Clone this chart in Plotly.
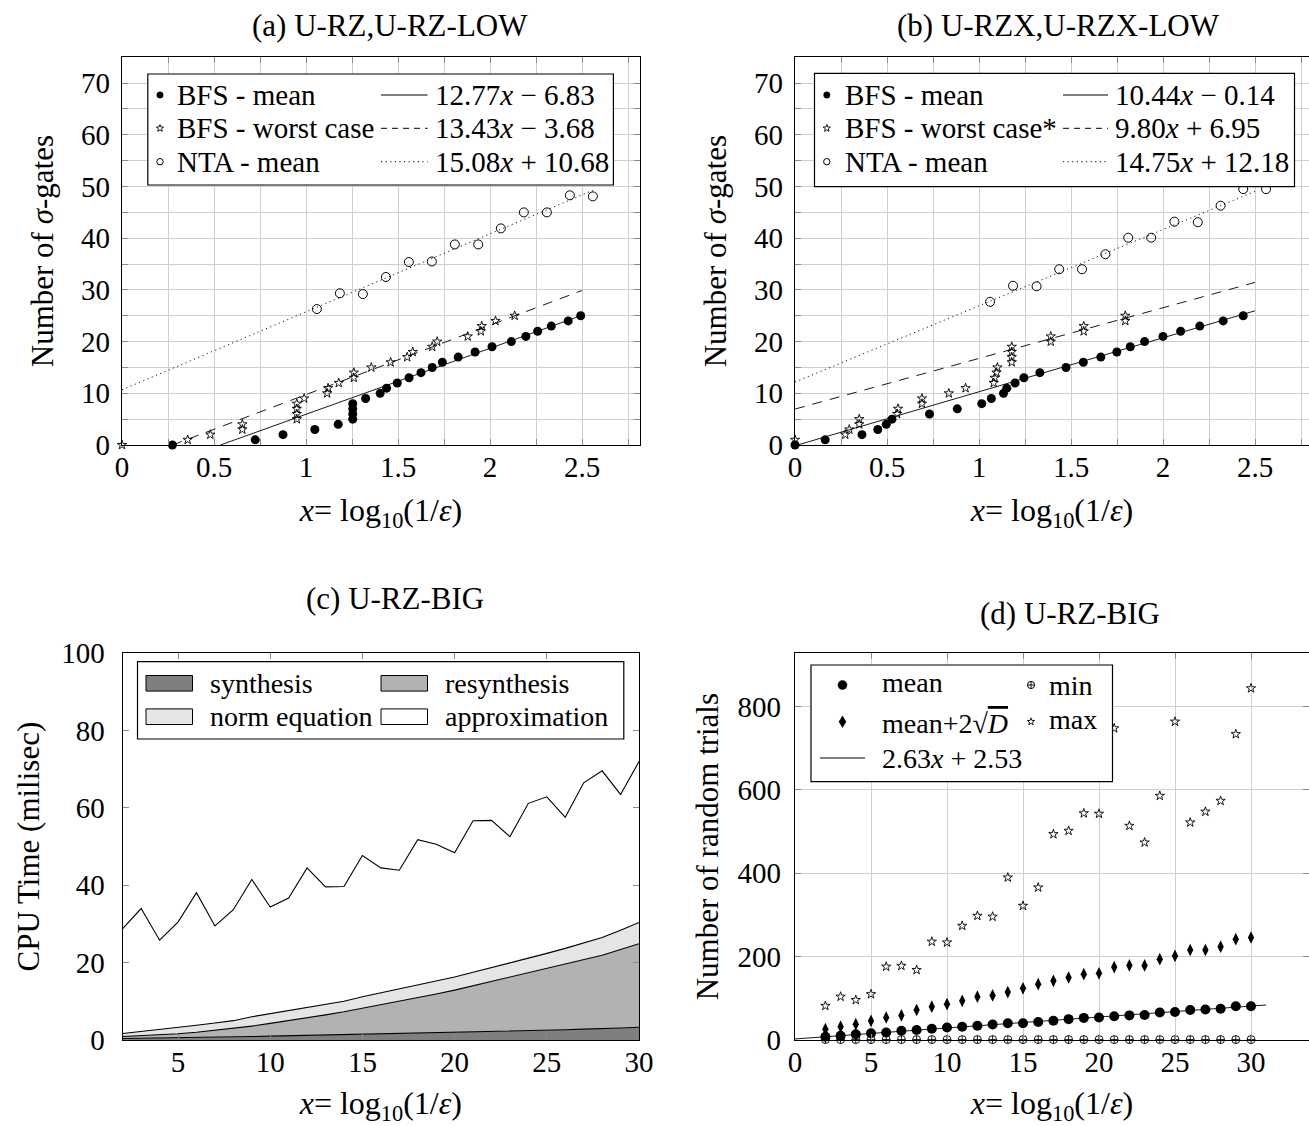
import numpy as np
import plotly.graph_objects as go

W, H = 1309, 1126
FONT = "Liberation Serif"

# ---------------- data: panel (a) U-RZ,U-RZ-LOW ----------------
a_mean_x = [0.274, 0.724, 0.875, 1.048, 1.175, 1.254, 1.254, 1.254, 1.254, 1.324, 1.403, 1.438, 1.496,
            1.56, 1.625, 1.686, 1.741, 1.827, 1.919, 2.011, 2.116, 2.195, 2.259, 2.333, 2.425, 2.493]
a_mean_y = [0, 1, 2, 3, 4, 5, 6, 7, 8, 9, 10, 11, 12, 13, 14, 15, 16, 17, 18, 19, 20, 21, 22, 23, 24, 25]
a_worst_x = [0.0, 0.357, 0.48, 0.654, 0.654, 0.95, 0.95, 0.95, 0.95, 0.99, 1.115, 1.12, 1.178,
             1.26, 1.26, 1.355, 1.46, 1.55, 1.58, 1.686, 1.713, 1.879, 1.95, 1.955, 2.03, 2.134]
a_worst_y = [0, 1, 2, 3, 4, 5, 6, 7, 8, 9, 10, 11, 12, 13, 14, 15, 16, 17, 18, 19, 20, 21, 22, 23, 24, 25]
a_nta_x = [1.059, 1.184, 1.309, 1.434, 1.559, 1.684, 1.809, 1.936, 2.059, 2.184, 2.309, 2.434, 2.559]
a_nta_y = [26.3, 29.35, 29.2, 32.5, 35.4, 35.5, 38.8, 38.8, 41.9, 45.0, 45.0, 48.3, 48.1]
a_fit_slope = [12.77, 13.43, 15.08]
a_fit_icpt = [-6.83, -3.68, 10.68]
a_fit_from = [0.535, 0.274, 0.0]
a_fit_to = [2.5, 2.5, 2.56]

# ---------------- data: panel (b) U-RZX,U-RZX-LOW ----------------
b_mean_x = [0.0, 0.164, 0.364, 0.45, 0.496, 0.527, 0.731, 0.882, 1.015, 1.067, 1.133, 1.151, 1.196,
            1.244, 1.331, 1.473, 1.567, 1.662, 1.749, 1.822, 1.9, 2.0, 2.096, 2.2, 2.327, 2.436]
b_mean_y = [0, 1, 2, 3, 4, 5, 6, 7, 8, 9, 10, 11, 12, 13, 14, 15, 16, 17, 18, 19, 20, 21, 22, 23, 24, 25]
b_worst_x = [0.0, 0.273, 0.295, 0.349, 0.349, 0.555, 0.56, 0.69, 0.69, 0.836, 0.927, 1.08, 1.085,
             1.095, 1.1, 1.178, 1.178, 1.178, 1.178, 1.39, 1.39, 1.569, 1.569, 1.795, 1.795]
b_worst_y = [1, 2, 3, 4, 5, 6, 7, 8, 9, 10, 11, 12, 13, 14, 15, 16, 17, 18, 19, 20, 21, 22, 23, 24, 25]
b_nta_x = [1.06, 1.185, 1.313, 1.436, 1.56, 1.687, 1.811, 1.936, 2.062, 2.189, 2.313, 2.436, 2.56]
b_nta_y = [27.7, 30.8, 30.7, 34.0, 34.0, 36.9, 40.1, 40.1, 43.2, 43.1, 46.3, 49.5, 49.5]
b_fit_slope = [10.44, 9.80, 14.75]
b_fit_icpt = [-0.14, 6.95, 12.18]
b_fit_from = [0.0, 0.0, 0.0]
b_fit_to = [2.5, 2.5, 2.5]

# ---------------- data: panel (c) U-RZ-BIG, CPU time ----------------
c_x = [2, 3, 4, 5, 6, 7, 8, 9, 10, 11, 12, 13, 14, 15, 16, 17, 18, 19, 20, 21, 22, 23, 24, 25, 26, 27, 28, 29, 30]
c_synthesis = [0.4, 0.45, 0.5, 0.55, 0.6, 0.7, 0.8, 0.9, 1.0, 1.1, 1.2, 1.3, 1.4, 1.5, 1.6, 1.7, 1.8, 1.85,
               1.9, 2.0, 2.1, 2.25, 2.4, 2.5, 2.65, 2.8, 2.9, 3.1, 3.3]
c_resynthesis = [0.5, 0.65, 0.8, 1.05, 1.4, 1.8, 2.2, 2.7, 3.3, 3.9, 4.5, 5.2, 5.9, 6.7, 7.5, 8.3, 9.1, 10.05,
                 11.0, 12.0, 13.0, 13.95, 15.0, 16.0, 16.95, 17.9, 19.0, 20.3, 21.6]
c_norm = [0.8, 1.1, 1.4, 1.6, 1.8, 1.9, 2.0, 2.4, 2.5, 2.6, 2.7, 2.8, 2.7, 3.0, 3.1, 3.2, 3.4, 3.3,
          3.4, 3.5, 3.6, 3.6, 3.7, 3.9, 4.1, 4.3, 4.6, 5.0, 5.5]
c_approx = [27.1, 31.8, 23.1, 27.3, 34.3, 25.1, 28.7, 35.5, 27.6, 29.1, 36.1, 30.3, 29.7, 36.5, 32.3, 30.7,
            37.5, 35.4, 32.1, 39.2, 38.1, 32.8, 40.1, 40.5, 33.9, 41.5, 43.1, 35.1, 41.6]

# ---------------- data: panel (d) U-RZ-BIG, random trials ----------------
d_x = [2, 3, 4, 5, 6, 7, 8, 9, 10, 11, 12, 13, 14, 15, 16, 17, 18, 19, 20, 21, 22, 23, 24, 25, 26, 27, 28, 29, 30]
d_mean = [8, 10, 14, 16, 18, 22, 24, 27, 30, 32, 34, 37, 40, 40, 43, 46, 50, 53, 54, 57, 59, 60, 66, 67, 72,
          73, 75, 81, 81]
d_mean2sd = [26, 32, 38, 46, 54, 59, 72, 80, 86, 94, 104, 107, 115, 124, 134, 142, 150, 158, 160, 175, 179,
             179, 194, 202, 216, 216, 224, 242, 246]
d_min = [1, 1, 1, 1, 1, 1, 1, 1, 1, 1, 1, 1, 1, 1, 1, 1, 1, 1, 1, 1, 1, 1, 1, 1, 1, 1, 1, 1, 1]
d_max = [82, 104, 96, 110, 176, 178, 168, 236, 234, 274, 298, 296, 390, 322, 366, 494, 502, 544, 543, 748,
         514, 474, 586, 764, 522, 548, 574, 734, 844]
d_fit_slope = 2.63
d_fit_icpt = 2.53
d_fit_range = [0.0, 31.0]

# ---------------- helpers ----------------
def px(x):
    return x / W


def py(y):
    return 1 - y / H


fig = go.Figure()


def markers(x, y, xa, ya, symbol, size, lw=1.0):
    fig.add_trace(go.Scatter(x=x, y=y, xaxis=xa, yaxis=ya, mode="markers", cliponaxis=False,
                             showlegend=False, hoverinfo="skip",
                             marker=dict(symbol=symbol, size=size, color="black",
                                         line=dict(color="black", width=lw))))


def fitline(m, b, x0, x1, xa, ya, dash, width=0.9):
    xs = np.array([x0, x1])
    fig.add_trace(go.Scatter(x=xs, y=m * xs + b, xaxis=xa, yaxis=ya, mode="lines", cliponaxis=False,
                             showlegend=False, hoverinfo="skip",
                             line=dict(color="black", width=width, dash=dash)))


DASH = "10px,8px"
DOT = "1.2px,3.4px"
dashes = ["solid", DASH, DOT]

# (a)
for i in range(3):
    fitline(a_fit_slope[i], a_fit_icpt[i], a_fit_from[i], a_fit_to[i], "x", "y", dashes[i])
markers(a_nta_x, a_nta_y, "x", "y", "circle-open", 9, 1)
markers(a_worst_x, a_worst_y, "x", "y", "star-open", 7, 0.9)
markers(a_mean_x, a_mean_y, "x", "y", "circle", 9, 0)

# (b)
for i in range(3):
    fitline(b_fit_slope[i], b_fit_icpt[i], b_fit_from[i], b_fit_to[i], "x2", "y2", dashes[i])
markers(b_nta_x, b_nta_y, "x2", "y2", "circle-open", 9, 1)
markers(b_worst_x, b_worst_y, "x2", "y2", "star-open", 7, 0.9)
markers(b_mean_x, b_mean_y, "x2", "y2", "circle", 9, 0)

# (c) stacked areas
c_layers = [(c_synthesis, "#7f7f7f"), (c_resynthesis, "#b2b2b2"), (c_norm, "#e5e5e5"), (c_approx, "#ffffff")]
for vals, col in c_layers:
    fig.add_trace(go.Scatter(x=c_x, y=vals, xaxis="x3", yaxis="y3", mode="lines", stackgroup="c",
                             fillcolor=col, line=dict(color="black", width=1.1), showlegend=False,
                             hoverinfo="skip"))

# (d)
fitline(d_fit_slope, d_fit_icpt, d_fit_range[0], d_fit_range[1], "x4", "y4", "solid")
markers(d_x, d_min, "x4", "y4", "circle-cross-open", 8, 0.9)
markers(d_x, d_max, "x4", "y4", "star-open", 7, 0.9)
markers(d_x, d_mean2sd, "x4", "y4", "diamond-tall", 9, 0)
markers(d_x, d_mean, "x4", "y4", "circle", 10, 0)

# ---------------- axes ----------------
GRID = "#cfcfcf"
TICKC = "#8a8a8a"
tickfont = dict(family=FONT, size=29, color="black")
XLAB = "<i>x</i>= log<sub>10</sub>(1/<i>ε</i>)"


def axis(domain, rng, dtick, title, tsize, tstand, minor=None, grid=True, mirror=True, standoff=6,
         tickvals=None, anchor=None):
    d = dict(domain=domain, range=rng, showline=True, linecolor="black", linewidth=1.3, mirror=mirror,
             showgrid=grid, gridcolor=GRID, gridwidth=1, zeroline=False, ticks="inside", ticklen=6,
             tickcolor=TICKC, tickfont=tickfont, ticklabelstandoff=standoff, anchor=anchor,
             fixedrange=True, automargin=False,
             title=dict(text=title, font=dict(family=FONT, size=tsize, color="black"), standoff=tstand))
    if tickvals is not None:
        d["tickmode"] = "array"
        d["tickvals"] = tickvals
    else:
        d["tick0"] = 0
        d["dtick"] = dtick
    if minor is not None:
        d["minor"] = dict(dtick=minor, showgrid=grid, gridcolor=GRID, gridwidth=1, ticks="inside",
                          ticklen=6, tickcolor=TICKC)
    return d


ab_y = [py(445), py(57.3)]
cd_y = [py(1040), py(653.3)]

fig.update_layout(
    xaxis=axis([px(122), px(640)], [0, 518 / 184], 0.5, XLAB, 32, 16, minor=0.25, mirror="ticks",
               standoff=-4, anchor="y"),
    yaxis=axis(ab_y, [0, 75], 10, "Number of <i>σ</i>-gates", 31, 18, minor=5, mirror="ticks",
               standoff=5, anchor="x"),
    xaxis2=axis([px(795), 1.0], [0, 514 / 184], 0.5, XLAB, 32, 16, minor=0.25, mirror="ticks",
                standoff=-4, anchor="y2"),
    yaxis2=axis(ab_y, [0, 75], 10, "Number of <i>σ</i>-gates", 31, 18, minor=5, mirror=False,
                standoff=5, anchor="x2"),
    xaxis3=axis([px(122.7), px(639)], [2, 30], None, XLAB, 32, 16, grid=False, mirror="ticks", standoff=-4,
                tickvals=[5, 10, 15, 20, 25, 30], anchor="y3"),
    yaxis3=axis(cd_y, [0, 100], 20, "CPU Time (milisec)", 31, 12, grid=False, mirror="ticks",
                standoff=11, anchor="x3"),
    xaxis4=axis([px(795), 1.0], [0, 514 / 15.2], 5, XLAB, 32, 16, mirror="ticks", standoff=-4, anchor="y4"),
    yaxis4=axis(cd_y, [0, 928], 200, "Number of random trials", 31, 9, mirror="ticks", standoff=7,
                anchor="x4"),
)

# ---------------- legends, titles (layout decorations) ----------------
shapes = []
annotations = []


def box(x0, y0, x1, y1, fill="white", width=1.2):
    shapes.append(dict(type="rect", xref="paper", yref="paper", x0=px(x0), x1=px(x1), y0=py(y1), y1=py(y0),
                       line=dict(color="black", width=width), fillcolor=fill, layer="above"))


def text(x, y, s, size=29, xanchor="left", angle=0):
    annotations.append(dict(x=px(x), y=py(y), xref="paper", yref="paper", text=s, showarrow=False,
                            xanchor=xanchor, yanchor="middle", textangle=angle,
                            font=dict(family=FONT, size=size, color="black")))


def dot(cx, cy, r, filled=True):
    shapes.append(dict(type="circle", xref="paper", yref="paper", x0=px(cx - r), x1=px(cx + r),
                       y0=py(cy + r), y1=py(cy - r), fillcolor="black" if filled else "white",
                       line=dict(color="black", width=0.5 if filled else 1), layer="above"))


def poly(points, fill="white", width=0.9, closed=True):
    d = "M" + " L".join(f"{px(x):.6f},{py(y):.6f}" for x, y in points) + (" Z" if closed else "")
    shapes.append(dict(type="path", xref="paper", yref="paper", path=d, fillcolor=fill,
                       line=dict(color="black", width=width), layer="above"))


def star(cx, cy, R):
    pts = []
    for k in range(10):
        ang = np.pi / 2 + k * np.pi / 5
        rr = R if k % 2 == 0 else R * 0.42
        pts.append((cx + rr * np.cos(ang), cy - rr * np.sin(ang)))
    poly(pts)


def seg(x0, x1, y, dash="solid", width=1.0):
    shapes.append(dict(type="line", xref="paper", yref="paper", x0=px(x0), x1=px(x1), y0=py(y), y1=py(y),
                       line=dict(color="black", width=width, dash=dash), layer="above"))


# legend (a)
box(147.8, 74, 613.4, 185)
rows = [95, 128.3, 161.7]
dot(160, rows[0], 3.2)
star(160, rows[1], 3.8)
dot(160, rows[2], 3.2, filled=False)
for r, s in zip(rows, ["BFS - mean", "BFS - worst case", "NTA - mean"]):
    text(175, r, s)
for r, dsh, s in zip(rows, ["solid", "6px,5px", DOT],
                     ["12.77<i>x</i> − 6.83", "13.43<i>x</i> − 3.68", "15.08<i>x</i> + 10.68"]):
    seg(381, 427.6, r, dsh)
    text(432.6, r, s)

# legend (b)
box(814.5, 73.3, 1294.5, 186.7)
dot(826.8, rows[0], 3.2)
star(826.8, rows[1], 3.8)
dot(826.8, rows[2], 3.2, filled=False)
for r, s in zip(rows, ["BFS - mean", "BFS - worst case*", "NTA - mean"]):
    text(842.5, r, s)
for r, dsh, s in zip(rows, ["solid", "6px,5px", DOT],
                     ["10.44<i>x</i> − 0.14", "9.80<i>x</i> + 6.95", "14.75<i>x</i> + 12.18"]):
    seg(1063, 1108, r, dsh)
    text(1113, r, s)

# legend (c)
box(137.5, 661.7, 623.8, 739)
crow = [683.3, 716.7]
citems = [(146, crow[0], "#7f7f7f", "synthesis"), (381, crow[0], "#b2b2b2", "resynthesis"),
          (146, crow[1], "#e5e5e5", "norm equation"), (381, crow[1], "#ffffff", "approximation")]
for x0, r, col, s in citems:
    box(x0, r - 7.8, x0 + 46.5, r + 7.8, fill=col, width=1)
    text(x0 + 61.5, r, s, size=28)

# legend (d)
box(811, 665, 1112.5, 781.7)
drow = [685, 721.7, 758]
dot(842.5, drow[0], 4.5)
poly([(842.5, drow[1] - 5.8), (846, drow[1]), (842.5, drow[1] + 5.8), (839, drow[1])], fill="black", width=0.5)
seg(820, 865, drow[2])
text(880, drow[0] - 3, "mean", size=28)
text(880, drow[1] + 2, "mean+2√<span style='text-decoration:overline'><i>D</i></span>", size=28)
text(880, drow[2], "2.63<i>x</i> + 2.53", size=28)
dot(1031, drow[0], 3.6, filled=False)
seg(1027.4, 1034.6, drow[0], width=0.9)
shapes.append(dict(type="line", xref="paper", yref="paper", x0=px(1031), x1=px(1031), y0=py(drow[0] - 3.6),
                   y1=py(drow[0] + 3.6), line=dict(color="black", width=0.9), layer="above"))
star(1031, drow[1], 3.8)
text(1047, drow[0], "min", size=28)
text(1047, drow[1] - 2, "max", size=28)

# titles
text(390, 25, "(a) U-RZ,U-RZ-LOW", size=31, xanchor="center")
text(1058, 25, "(b) U-RZX,U-RZX-LOW", size=31, xanchor="center")
text(395, 598, "(c) U-RZ-BIG", size=31, xanchor="center")
text(1070, 613, "(d) U-RZ-BIG", size=31, xanchor="center")

fig.update_layout(
    width=W, height=H, margin=dict(l=0, r=0, t=0, b=0), autosize=False,
    paper_bgcolor="white", plot_bgcolor="white", showlegend=False,
    shapes=shapes, annotations=annotations,
    font=dict(family=FONT, size=28, color="black"),
)

fig.write_html("out.html", include_plotlyjs=True, config={"displayModeBar": False})
